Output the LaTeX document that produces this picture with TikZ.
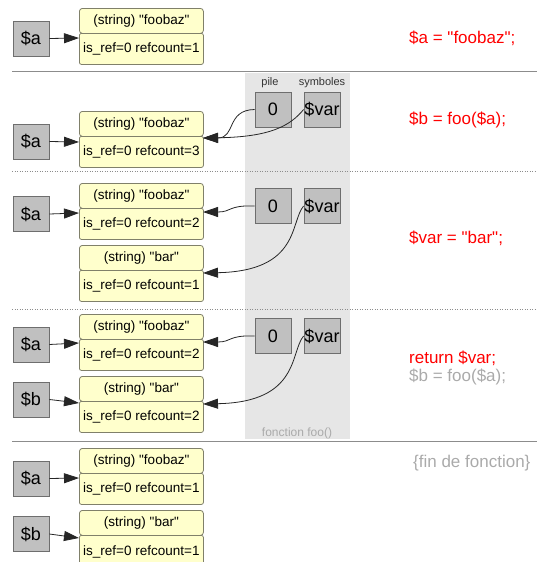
\documentclass[tikz,border=0pt]{standalone}
\usepackage{fontspec}
\setmainfont{Liberation Sans}[Ligatures=TeXOff]
\usetikzlibrary{arrows.meta}
\definecolor{boxgray}{HTML}{C0C0C0}
\definecolor{boxbord}{HTML}{6E6E6E}
\definecolor{yel}{HTML}{FFFFCC}
\definecolor{yelbord}{HTML}{80806A}
\definecolor{band}{HTML}{E6E6E6}
\definecolor{sep}{HTML}{8C8C8C}
\definecolor{codered}{HTML}{FF0000}
\definecolor{codegray}{HTML}{AAAAAA}
\tikzset{
  varbox/.style={draw=boxbord, fill=boxgray, line width=0.8pt, minimum width=36pt, minimum height=35pt, inner sep=0pt, font=\fontsize{18}{18}\selectfont},
  hdr/.style={draw=yelbord, fill=yel, line width=0.8pt, rounded corners=3pt, minimum width=124pt, minimum height=25pt, inner sep=0pt, anchor=north west, font=\fontsize{13.5}{14}\selectfont},
  bdy/.style={draw=yelbord, fill=yel, line width=0.8pt, rounded corners=2pt, minimum width=124pt, minimum height=31pt, inner sep=0pt, anchor=north west, font=\fontsize{13.5}{14}\selectfont},
  conn/.style={draw=black!85, line width=0.8pt, -{Triangle[length=15pt,width=10pt]}},
  code/.style={anchor=west, inner sep=0pt, text=codered, font=\fontsize{17}{17}\selectfont},
  codeg/.style={code, text=codegray},
  small/.style={inner sep=0pt, text=black!80, font=\fontsize{11}{11}\selectfont},
  sepline/.style={draw=sep, line width=1pt},
  dotline/.style={draw=sep, line width=1pt, dash pattern=on 1pt off 1.5pt},
}
\newcommand\valbox[4]{%
  \node[hdr] (#1h) at (79,#2) {#3};
  \node[bdy] (#1b) at (79,#2+25) {#4};
}
\begin{document}
\begin{tikzpicture}[x=1pt,y=-1pt]
\useasboundingbox (0,0) rectangle (537,562);
% band
\fill[band] (245,73) rectangle (350,439);
\node[small] (pile) at (270,83) {pile};
\node[small] (symb) at (322,83) {symboles};
\node[small, text=codegray, font=\fontsize{12}{12}\selectfont] (fn) at (297,433) {fonction foo()};
% separators
\draw[sepline] (12,71) -- (537,71);
\draw[dotline] (12,171) -- (537,171);
\draw[dotline] (12,309) -- (537,309);
\draw[sepline] (12,441) -- (537,441);
% section 1
\node[varbox] (a1) at (31,38.5) {\$a};
\valbox{f1}{8}{(string) "foobaz"}{is\_ref=0 refcount=1}
\coordinate (ta1) at (79,38);
\draw[conn] (a1.east) -- (ta1);
\node[code] (c1) at (409,38) {\$a = "foobaz";};
% section 2
\node[varbox] (a2) at (31,141.5) {\$a};
\valbox{f2}{111}{(string) "foobaz"}{is\_ref=0 refcount=3}
\coordinate (ta2) at (79,142);
\draw[conn] (a2.east) -- (ta2);
\node[varbox] (z2) at (273,109.5) {0};
\node[varbox] (v2) at (322,109.5) {\$var};
\coordinate (t2) at (203,138);
\draw[conn] (z2.west) .. controls (226,110) and (236,138) .. (t2);
\draw[conn] (v2.west) .. controls (290,126) and (270,137) .. (t2);
\node[code] (c2) at (409,120) {\$b = foo(\$a);};
% section 3
\node[varbox] (a3) at (31,214) {\$a};
\valbox{f3}{183}{(string) "foobaz"}{is\_ref=0 refcount=2}
\valbox{b3}{245}{(string) "bar"}{is\_ref=0 refcount=1}
\coordinate (ta3) at (79,213);
\draw[conn] (a3.east) -- (ta3);
\node[varbox] (z3) at (273,206) {0};
\node[varbox] (v3) at (322,206) {\$var};
\coordinate (t3a) at (203,212);
\coordinate (t3b) at (203,273);
\draw[conn] (z3.west) .. controls (228,205) and (232,212) .. (t3a);
\draw[conn] (v3.west) .. controls (290,222) and (300,271) .. (t3b);
\node[code] (c3) at (409,238) {\$var = "bar";};
% section 4
\node[varbox] (a4) at (31,344.5) {\$a};
\node[varbox] (b4) at (31,399.5) {\$b};
\valbox{f4}{314}{(string) "foobaz"}{is\_ref=0 refcount=2}
\valbox{g4}{376}{(string) "bar"}{is\_ref=0 refcount=2}
\coordinate (ta4) at (79,343);
\coordinate (tb4) at (79,403);
\draw[conn] (a4.east) -- (ta4);
\draw[conn] (b4.east) -- (tb4);
\node[varbox] (z4) at (273,336) {0};
\node[varbox] (v4) at (322,336) {\$var};
\coordinate (t4a) at (203,342);
\coordinate (t4b) at (203,404);
\draw[conn] (z4.west) .. controls (228,335) and (232,342) .. (t4a);
\draw[conn] (v4.west) .. controls (290,352) and (300,402) .. (t4b);
\node[code] (c4) at (409,358) {return \$var;};
\node[codeg] (c4b) at (409,377) {\$b = foo(\$a);};
% section 5
\node[varbox] (a5) at (31,478.5) {\$a};
\node[varbox] (b5) at (31,534) {\$b};
\valbox{f5}{448}{(string) "foobaz"}{is\_ref=0 refcount=1}
\node[hdr] (g5h) at (79,510) {(string) "bar"};
\node[bdy, minimum height=33pt] (g5b) at (79,535) {is\_ref=0 refcount=1};
\coordinate (ta5) at (79,478);
\coordinate (tb5) at (79,538);
\draw[conn] (a5.east) -- (ta5);
\draw[conn] (b5.east) -- (tb5);
\node[codeg] (c5) at (413,463) {\{fin de fonction\}};
\end{tikzpicture}
\end{document}
